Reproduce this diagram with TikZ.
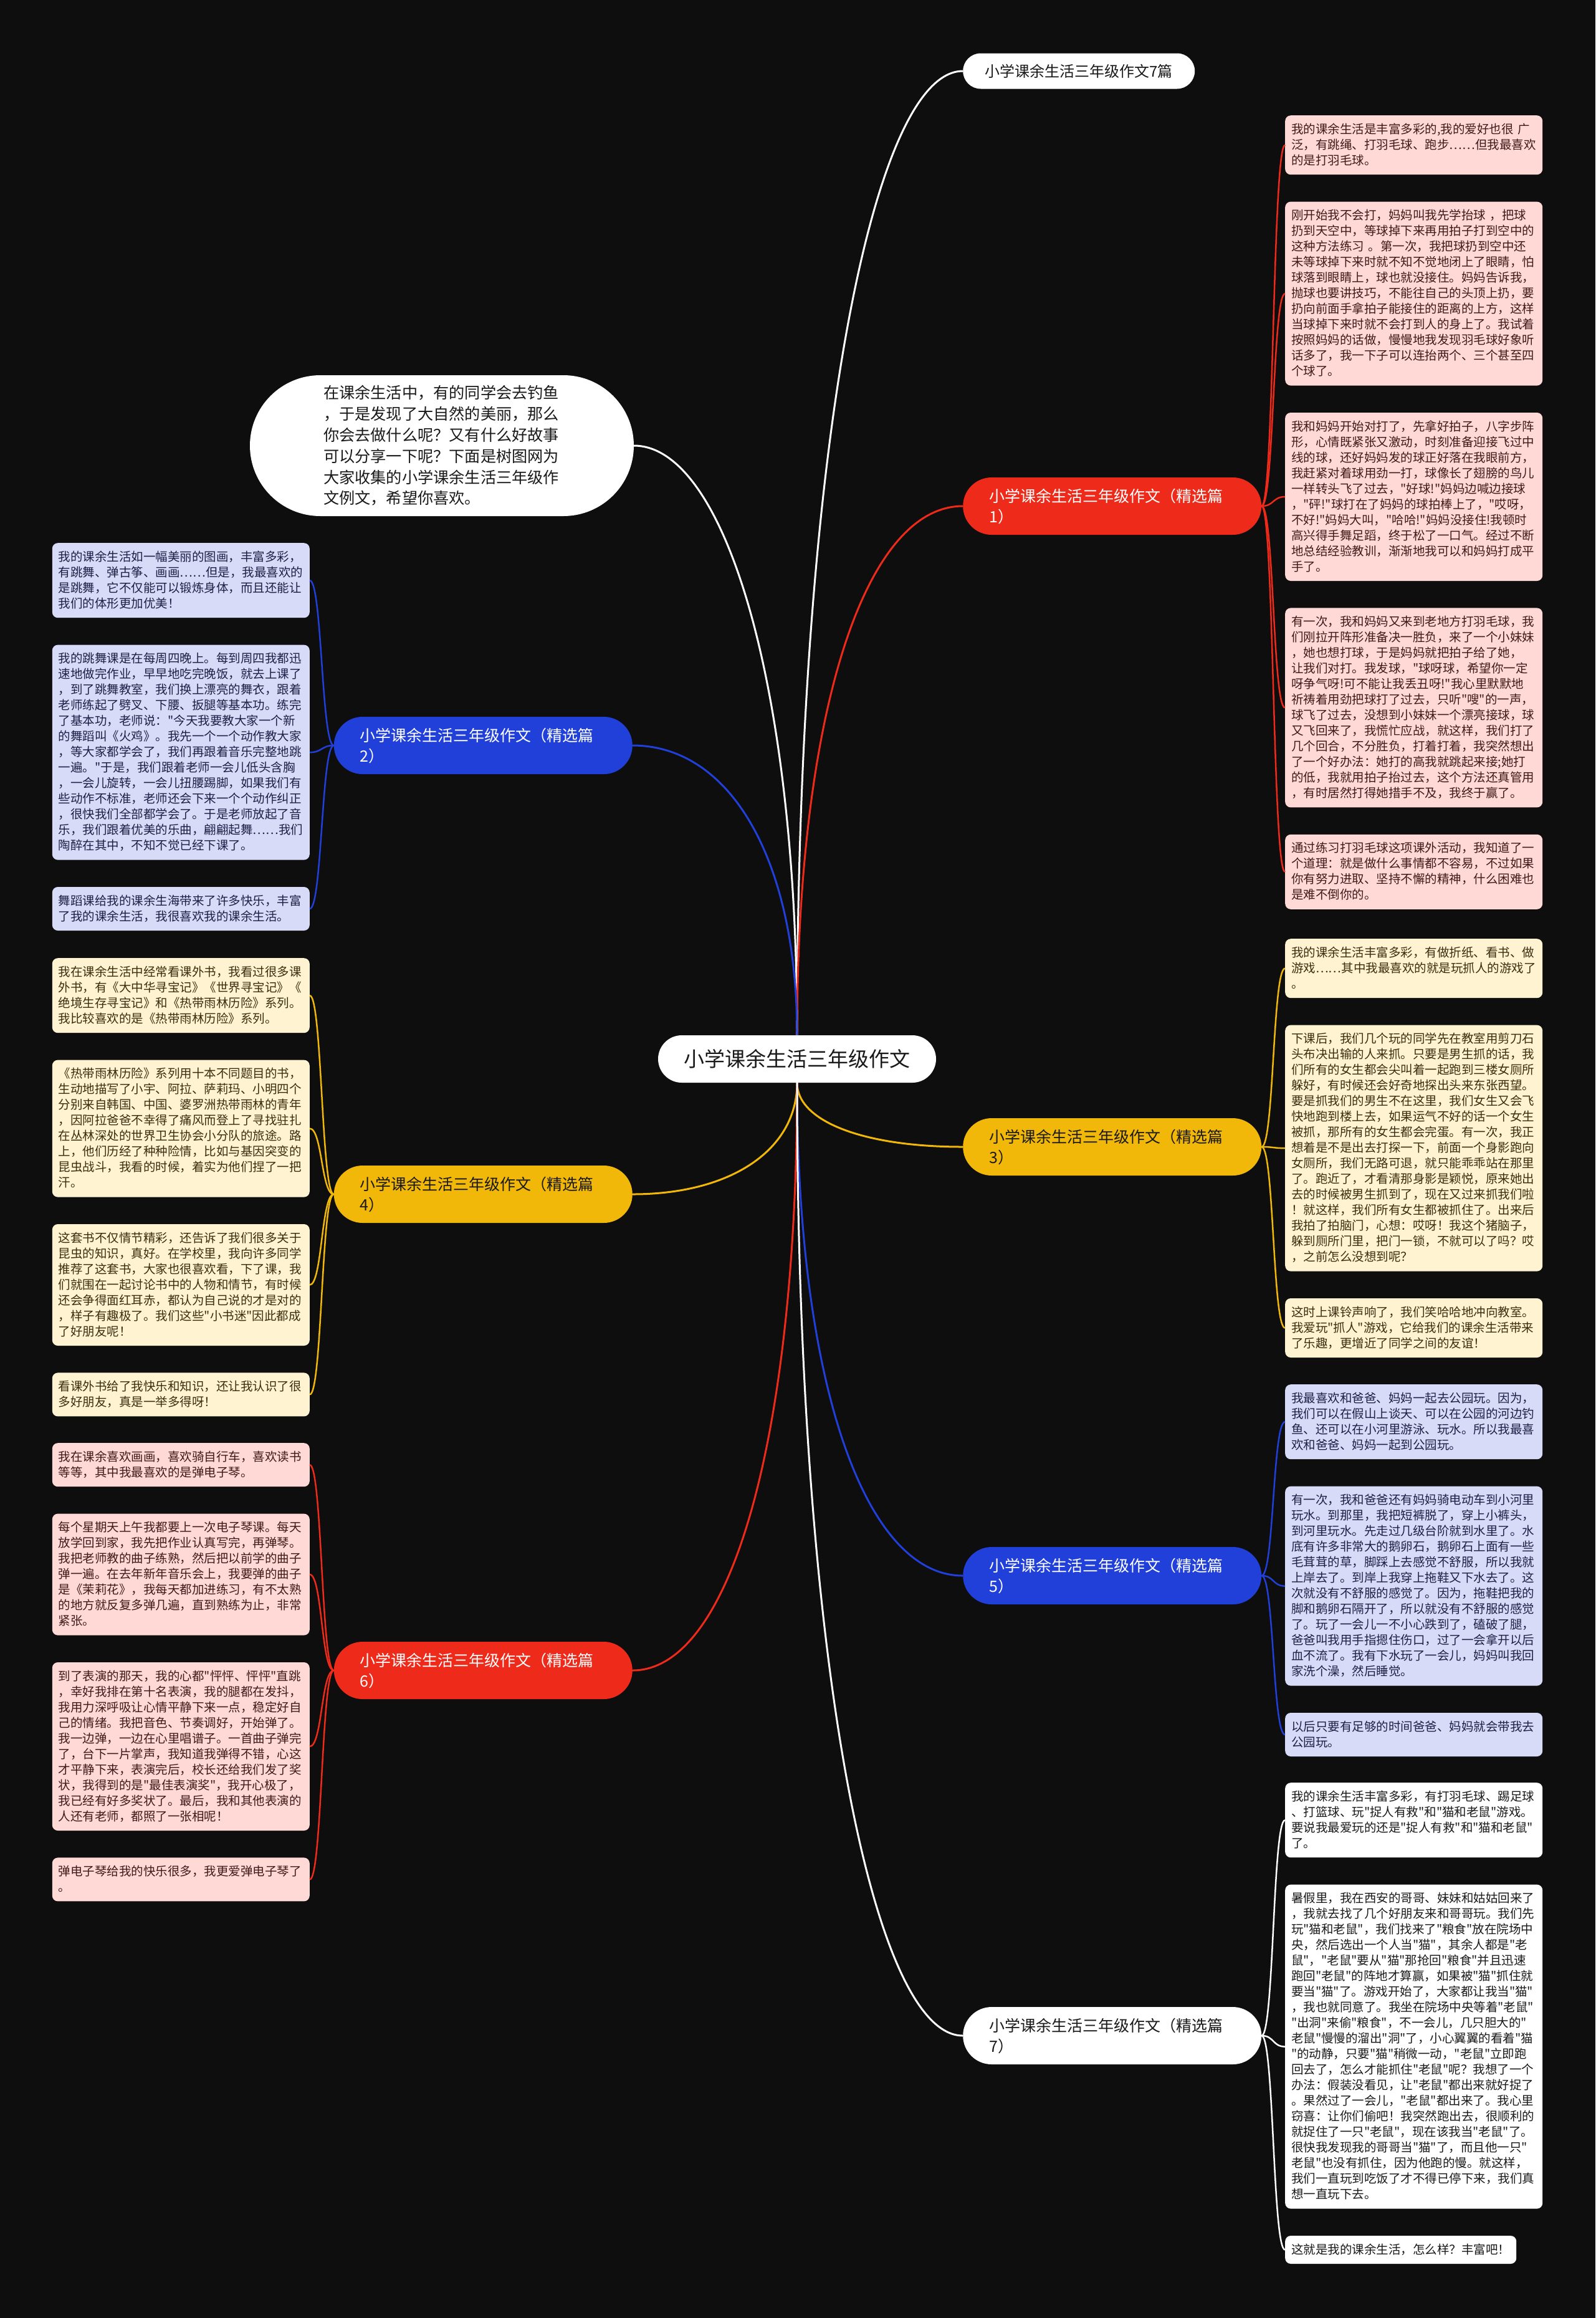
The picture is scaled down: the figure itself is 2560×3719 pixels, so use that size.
\documentclass[tikz,border=0pt]{standalone}
\usepackage{fontspec}
\setmainfont{Noto Sans CJK SC}[Ligatures=TeXOff]
\usetikzlibrary{positioning,calc}
\definecolor{bgdark}{HTML}{0E0E0E}
\definecolor{essred}{HTML}{EE2A1A}
\definecolor{essblue}{HTML}{2140D9}
\definecolor{essyellow}{HTML}{F1B709}
\definecolor{leafred}{HTML}{FFD9D5}
\definecolor{leafyellow}{HTML}{FFF3D2}
\definecolor{leafblue}{HTML}{D8DBF8}
\definecolor{inkred}{HTML}{3E1B18}
\definecolor{inkyellow}{HTML}{3A2E10}
\definecolor{inkblue}{HTML}{1D2046}
\definecolor{inkdark}{HTML}{1A1A1A}
\tikzstyle{topic} = [fill=white, text=inkdark, rounded corners=38pt, minimum width=446pt, minimum height=76pt, font=\fontsize{33pt}{40pt}\selectfont]
\tikzstyle{introbubble} = [fill=white, text=inkdark, rounded corners=113pt, minimum height=226pt, text width=380pt, inner xsep=118pt, align=left, font=\fontsize{25.2pt}{33.8pt}\selectfont]
\tikzstyle{mainbranch} = [rounded corners=46pt, minimum height=92pt, text width=395pt, inner xsep=42pt, align=left, font=\fontsize{25pt}{33pt}\selectfont]
\tikzstyle{leafbase} = [rounded corners=9pt, inner xsep=10pt, inner ysep=10pt, font=\fontsize{19.5pt}{25pt}\selectfont]
\tikzstyle{leaf} = [leafbase, text width=393pt, align=left, execute at begin node={\parindent0pt\rule{0pt}{19pt}}, execute at end node={\rule[-6pt]{0pt}{6pt}}]
\tikzstyle{redleaf} = [leaf, fill=leafred, text=inkred]
\tikzstyle{yellowleaf} = [leaf, fill=leafyellow, text=inkyellow]
\tikzstyle{blueleaf} = [leaf, fill=leafblue, text=inkblue]
\tikzstyle{whiteleaf} = [leaf, fill=white, text=inkdark]
\tikzstyle{redlink} = [draw=essred, line width=3pt]
\tikzstyle{bluelink} = [draw=essblue, line width=3pt]
\tikzstyle{yellowlink} = [draw=essyellow, line width=3pt]
\tikzstyle{whitelink} = [draw=white, line width=3pt]
\tikzstyle{twig} = [line width=2.5pt]

\begin{document}
\begin{tikzpicture}[x=1pt, y=-1pt]
    \fill[bgdark] (0,0) rectangle (2560,3719);
    \useasboundingbox (0,0) rectangle (2560,3719);

    % Central topic and intro
    \node [topic] (root) at (1279,1699) {小学课余生活三年级作文};
    \node [introbubble] (intro) at (709,715) {在课余生活中，有的同学会去钓鱼\\
，于是发现了大自然的美丽，那么\\
你会去做什么呢？又有什么好故事\\
可以分享一下呢？下面是树图网为\\
大家收集的小学课余生活三年级作\\
文例文，希望你喜欢。};

    % Main branches
    \node [topic, anchor=west, minimum width=372pt, minimum height=57pt, rounded corners=28.5pt, font=\fontsize{24pt}{30pt}\selectfont] (b0) at (1545,114) {小学课余生活三年级作文7篇};
    \node [mainbranch, fill=essred, text=white, anchor=west] (b1) at (1545,812) {小学课余生活三年级作文（精选篇\\1）};
    \node [mainbranch, fill=essblue, text=white, anchor=east] (b2) at (1015,1196) {小学课余生活三年级作文（精选篇\\2）};
    \node [mainbranch, fill=essyellow, text=inkdark, anchor=west] (b3) at (1545,1840) {小学课余生活三年级作文（精选篇\\3）};
    \node [mainbranch, fill=essyellow, text=inkdark, anchor=east] (b4) at (1015,1916) {小学课余生活三年级作文（精选篇\\4）};
    \node [mainbranch, fill=essblue, text=white, anchor=west] (b5) at (1545,2528) {小学课余生活三年级作文（精选篇\\5）};
    \node [mainbranch, fill=essred, text=white, anchor=east] (b6) at (1015,2680) {小学课余生活三年级作文（精选篇\\6）};
    \node [mainbranch, fill=white, text=inkdark, anchor=west] (b7) at (1545,3266) {小学课余生活三年级作文（精选篇\\7）};

    % Leaves of branch 1
    \node [redleaf, anchor=north west] (r1) at (2062,185) {我的课余生活是丰富多彩的,我的爱好也很 广\\
泛，有跳绳、打羽毛球、跑步……但我最喜欢\\
的是打羽毛球。};
    \node [redleaf, below=43pt of r1.south west, anchor=north west] (r2) {刚开始我不会打，妈妈叫我先学抬球 ，把球\\
扔到天空中，等球掉下来再用拍子打到空中的\\
这种方法练习 。第一次，我把球扔到空中还\\
未等球掉下来时就不知不觉地闭上了眼睛，怕\\
球落到眼睛上，球也就没接住。妈妈告诉我，\\
抛球也要讲技巧，不能往自己的头顶上扔，要\\
扔向前面手拿拍子能接住的距离的上方，这样\\
当球掉下来时就不会打到人的身上了。我试着\\
按照妈妈的话做，慢慢地我发现羽毛球好象听\\
话多了，我一下子可以连抬两个、三个甚至四\\
个球了。};
    \node [redleaf, below=43pt of r2.south west, anchor=north west] (r3) {我和妈妈开始对打了，先拿好拍子，八字步阵\\
形，心情既紧张又激动，时刻准备迎接飞过中\\
线的球，还好妈妈发的球正好落在我眼前方，\\
我赶紧对着球用劲一打，球像长了翅膀的鸟儿\\
一样转头飞了过去，"好球!"妈妈边喊边接球\\
，"砰!"球打在了妈妈的球拍棒上了，"哎呀，\\
不好!"妈妈大叫，"哈哈!"妈妈没接住!我顿时\\
高兴得手舞足蹈，终于松了一口气。经过不断\\
地总结经验教训，渐渐地我可以和妈妈打成平\\
手了。};
    \node [redleaf, below=43pt of r3.south west, anchor=north west] (r4) {有一次，我和妈妈又来到老地方打羽毛球，我\\
们刚拉开阵形准备决一胜负，来了一个小妹妹\\
，她也想打球，于是妈妈就把拍子给了她，\\
让我们对打。我发球，"球呀球，希望你一定\\
呀争气呀!可不能让我丢丑呀!"我心里默默地\\
祈祷着用劲把球打了过去，只听"嗖"的一声，\\
球飞了过去，没想到小妹妹一个漂亮接球，球\\
又飞回来了，我慌忙应战，就这样，我们打了\\
几个回合，不分胜负，打着打着，我突然想出\\
了一个好办法：她打的高我就跳起来接;她打\\
的低，我就用拍子抬过去，这个方法还真管用\\
，有时居然打得她措手不及，我终于赢了。};
    \node [redleaf, below=43pt of r4.south west, anchor=north west] (r5) {通过练习打羽毛球这项课外活动，我知道了一\\
个道理：就是做什么事情都不容易，不过如果\\
你有努力进取、坚持不懈的精神，什么困难也\\
是难不倒你的。};

    % Leaves of branch 3
    \node [yellowleaf, anchor=north west] (y1) at (2062,1506) {我的课余生活丰富多彩，有做折纸、看书、做\\
游戏……其中我最喜欢的就是玩抓人的游戏了\\
。};
    \node [yellowleaf, below=43pt of y1.south west, anchor=north west] (y2) {下课后，我们几个玩的同学先在教室用剪刀石\\
头布决出输的人来抓。只要是男生抓的话，我\\
们所有的女生都会尖叫着一起跑到三楼女厕所\\
躲好，有时候还会好奇地探出头来东张西望。\\
要是抓我们的男生不在这里，我们女生又会飞\\
快地跑到楼上去，如果运气不好的话一个女生\\
被抓，那所有的女生都会完蛋。有一次，我正\\
想着是不是出去打探一下，前面一个身影跑向\\
女厕所，我们无路可退，就只能乖乖站在那里\\
了。跑近了，才看清那身影是颖悦，原来她出\\
去的时候被男生抓到了，现在又过来抓我们啦\\
！就这样，我们所有女生都被抓住了。出来后\\
我拍了拍脑门，心想：哎呀！我这个猪脑子，\\
躲到厕所门里，把门一锁，不就可以了吗？哎\\
，之前怎么没想到呢？};
    \node [yellowleaf, below=43pt of y2.south west, anchor=north west] (y3) {这时上课铃声响了，我们笑哈哈地冲向教室。\\
我爱玩"抓人"游戏，它给我们的课余生活带来\\
了乐趣，更增近了同学之间的友谊！};

    % Leaves of branch 5
    \node [blueleaf, anchor=north west] (u1) at (2062,2221) {我最喜欢和爸爸、妈妈一起去公园玩。因为，\\
我们可以在假山上谈天、可以在公园的河边钓\\
鱼、还可以在小河里游泳、玩水。所以我最喜\\
欢和爸爸、妈妈一起到公园玩。};
    \node [blueleaf, below=43pt of u1.south west, anchor=north west] (u2) {有一次，我和爸爸还有妈妈骑电动车到小河里\\
玩水。到那里，我把短裤脱了，穿上小裤头，\\
到河里玩水。先走过几级台阶就到水里了。水\\
底有许多非常大的鹅卵石，鹅卵石上面有一些\\
毛茸茸的草，脚踩上去感觉不舒服，所以我就\\
上岸去了。到岸上我穿上拖鞋又下水去了。这\\
次就没有不舒服的感觉了。因为，拖鞋把我的\\
脚和鹅卵石隔开了，所以就没有不舒服的感觉\\
了。玩了一会儿一不小心跌到了，磕破了腿，\\
爸爸叫我用手指摁住伤口，过了一会拿开以后\\
血不流了。我有下水玩了一会儿，妈妈叫我回\\
家洗个澡，然后睡觉。};
    \node [blueleaf, below=43pt of u2.south west, anchor=north west] (u3) {以后只要有足够的时间爸爸、妈妈就会带我去\\
公园玩。};

    % Leaves of branch 7
    \node [whiteleaf, anchor=north west] (w1) at (2062,2860) {我的课余生活丰富多彩，有打羽毛球、踢足球\\
、打篮球、玩"捉人有救"和"猫和老鼠"游戏。\\
要说我最爱玩的还是"捉人有救"和"猫和老鼠"\\
了。};
    \node [whiteleaf, below=43pt of w1.south west, anchor=north west] (w2) {暑假里，我在西安的哥哥、妹妹和姑姑回来了\\
，我就去找了几个好朋友来和哥哥玩。我们先\\
玩"猫和老鼠"，我们找来了"粮食"放在院场中\\
央，然后选出一个人当"猫"，其余人都是"老\\
鼠"，"老鼠"要从"猫"那抢回"粮食"并且迅速\\
跑回"老鼠"的阵地才算赢，如果被"猫"抓住就\\
要当"猫"了。游戏开始了，大家都让我当"猫"\\
，我也就同意了。我坐在院场中央等着"老鼠"\\
"出洞"来偷"粮食"，不一会儿，几只胆大的"\\
老鼠"慢慢的溜出"洞"了，小心翼翼的看着"猫\\
"的动静，只要"猫"稍微一动，"老鼠"立即跑\\
回去了，怎么才能抓住"老鼠"呢？我想了一个\\
办法：假装没看见，让"老鼠"都出来就好捉了\\
。果然过了一会儿，"老鼠"都出来了。我心里\\
窃喜：让你们偷吧！我突然跑出去，很顺利的\\
就捉住了一只"老鼠"，现在该我当"老鼠"了。\\
很快我发现我的哥哥当"猫"了，而且他一只"\\
老鼠"也没有抓住，因为他跑的慢。就这样，\\
我们一直玩到吃饭了才不得已停下来，我们真\\
想一直玩下去。};
    \node [leafbase, fill=white, text=inkdark, text height=19pt, text depth=6pt, below=43pt of w2.south west, anchor=north west] (w3) {这就是我的课余生活，怎么样？丰富吧！};

    % Leaves of branch 2
    \node [blueleaf, anchor=north east] (lb1) at (497,871) {我的课余生活如一幅美丽的图画，丰富多彩，\\
有跳舞、弹古筝、画画……但是，我最喜欢的\\
是跳舞，它不仅能可以锻炼身体，而且还能让\\
我们的体形更加优美！};
    \node [blueleaf, below=43pt of lb1.south east, anchor=north east] (lb2) {我的跳舞课是在每周四晚上。每到周四我都迅\\
速地做完作业，早早地吃完晚饭，就去上课了\\
，到了跳舞教室，我们换上漂亮的舞衣，跟着\\
老师练起了劈叉、下腰、扳腿等基本功。练完\\
了基本功，老师说："今天我要教大家一个新\\
的舞蹈叫《火鸡》。我先一个一个动作教大家\\
，等大家都学会了，我们再跟着音乐完整地跳\\
一遍。"于是，我们跟着老师一会儿低头含胸\\
，一会儿旋转，一会儿扭腰踢脚，如果我们有\\
些动作不标准，老师还会下来一个个动作纠正\\
，很快我们全部都学会了。于是老师放起了音\\
乐，我们跟着优美的乐曲，翩翩起舞……我们\\
陶醉在其中，不知不觉已经下课了。};
    \node [blueleaf, below=43pt of lb2.south east, anchor=north east] (lb3) {舞蹈课给我的课余生海带来了许多快乐，丰富\\
了我的课余生活，我很喜欢我的课余生活。};

    % Leaves of branch 4
    \node [yellowleaf, anchor=north east] (ly1) at (497,1537) {我在课余生活中经常看课外书，我看过很多课\\
外书，有《大中华寻宝记》《世界寻宝记》《\\
绝境生存寻宝记》和《热带雨林历险》系列。\\
我比较喜欢的是《热带雨林历险》系列。};
    \node [yellowleaf, below=43pt of ly1.south east, anchor=north east] (ly2) {《热带雨林历险》系列用十本不同题目的书，\\
生动地描写了小宇、阿拉、萨莉玛、小明四个\\
分别来自韩国、中国、婆罗洲热带雨林的青年\\
，因阿拉爸爸不幸得了痛风而登上了寻找驻扎\\
在丛林深处的世界卫生协会小分队的旅途。路\\
上，他们历经了种种险情，比如与基因突变的\\
昆虫战斗，我看的时候，着实为他们捏了一把\\
汗。};
    \node [yellowleaf, below=43pt of ly2.south east, anchor=north east] (ly3) {这套书不仅情节精彩，还告诉了我们很多关于\\
昆虫的知识，真好。在学校里，我向许多同学\\
推荐了这套书，大家也很喜欢看，下了课，我\\
们就围在一起讨论书中的人物和情节，有时候\\
还会争得面红耳赤，都认为自己说的才是对的\\
，样子有趣极了。我们这些"小书迷"因此都成\\
了好朋友呢！};
    \node [yellowleaf, below=43pt of ly3.south east, anchor=north east] (ly4) {看课外书给了我快乐和知识，还让我认识了很\\
多好朋友，真是一举多得呀！};

    % Leaves of branch 6
    \node [redleaf, anchor=north east] (lr1) at (497,2315) {我在课余喜欢画画，喜欢骑自行车，喜欢读书\\
等等，其中我最喜欢的是弹电子琴。};
    \node [redleaf, below=43pt of lr1.south east, anchor=north east] (lr2) {每个星期天上午我都要上一次电子琴课。每天\\
放学回到家，我先把作业认真写完，再弹琴。\\
我把老师教的曲子练熟，然后把以前学的曲子\\
弹一遍。在去年新年音乐会上，我要弹的曲子\\
是《茉莉花》，我每天都加进练习，有不太熟\\
的地方就反复多弹几遍，直到熟练为止，非常\\
紧张。};
    \node [redleaf, below=43pt of lr2.south east, anchor=north east] (lr3) {到了表演的那天，我的心都"怦怦、怦怦"直跳\\
，幸好我排在第十名表演，我的腿都在发抖，\\
我用力深呼吸让心情平静下来一点，稳定好自\\
己的情绪。我把音色、节奏调好，开始弹了。\\
我一边弹，一边在心里唱谱子。一首曲子弹完\\
了，台下一片掌声，我知道我弹得不错，心这\\
才平静下来，表演完后，校长还给我们发了奖\\
状，我得到的是"最佳表演奖"，我开心极了，\\
我已经有好多奖状了。最后，我和其他表演的\\
人还有老师，都照了一张相呢！};
    \node [redleaf, below=43pt of lr3.south east, anchor=north east] (lr4) {弹电子琴给我的快乐很多，我更爱弹电子琴了\\
。};

    % Connections from the central topic
    \draw [whitelink] (root.north) .. controls ($(root.north)!.6!(root.north |- intro.east)$) and ($(root.north |- intro.east)!.45!(intro.east)$) .. (intro.east);
    \draw [whitelink] (root.north) .. controls ($(root.north)!.6!(root.north |- b0.west)$) and ($(root.north |- b0.west)!.45!(b0.west)$) .. (b0.west);
    \draw [redlink] (root.north) .. controls ($(root.north)!.6!(root.north |- b1.west)$) and ($(root.north |- b1.west)!.4!(b1.west)$) .. (b1.west);
    \draw [bluelink] (root.north) .. controls ($(root.north)!.6!(root.north |- b2.east)$) and ($(root.north |- b2.east)!.4!(b2.east)$) .. (b2.east);
    \draw [yellowlink] (root.south) .. controls ($(root.south)!.6!(root.south |- b3.west)$) and ($(root.south |- b3.west)!.4!(b3.west)$) .. (b3.west);
    \draw [yellowlink] (root.south) .. controls ($(root.south)!.6!(root.south |- b4.east)$) and ($(root.south |- b4.east)!.4!(b4.east)$) .. (b4.east);
    \draw [bluelink] (root.south) .. controls ($(root.south)!.6!(root.south |- b5.west)$) and ($(root.south |- b5.west)!.4!(b5.west)$) .. (b5.west);
    \draw [redlink] (root.south) .. controls ($(root.south)!.6!(root.south |- b6.east)$) and ($(root.south |- b6.east)!.4!(b6.east)$) .. (b6.east);
    \draw [whitelink] (root.south) .. controls ($(root.south)!.6!(root.south |- b7.west)$) and ($(root.south |- b7.west)!.45!(b7.west)$) .. (b7.west);

    % Connections to the leaves
    \draw [redlink, twig] (b1.east) .. controls +(20,0) and +(-20,0) .. (r1.west);
    \draw [redlink, twig] (b1.east) .. controls +(20,0) and +(-20,0) .. (r2.west);
    \draw [redlink, twig] (b1.east) .. controls +(20,0) and +(-20,0) .. (r3.west);
    \draw [redlink, twig] (b1.east) .. controls +(20,0) and +(-20,0) .. (r4.west);
    \draw [redlink, twig] (b1.east) .. controls +(20,0) and +(-20,0) .. (r5.west);
    \draw [yellowlink, twig] (b3.east) .. controls +(20,0) and +(-20,0) .. (y1.west);
    \draw [yellowlink, twig] (b3.east) .. controls +(20,0) and +(-20,0) .. (y2.west);
    \draw [yellowlink, twig] (b3.east) .. controls +(20,0) and +(-20,0) .. (y3.west);
    \draw [bluelink, twig] (b5.east) .. controls +(20,0) and +(-20,0) .. (u1.west);
    \draw [bluelink, twig] (b5.east) .. controls +(20,0) and +(-20,0) .. (u2.west);
    \draw [bluelink, twig] (b5.east) .. controls +(20,0) and +(-20,0) .. (u3.west);
    \draw [whitelink, twig] (b7.east) .. controls +(20,0) and +(-20,0) .. (w1.west);
    \draw [whitelink, twig] (b7.east) .. controls +(20,0) and +(-20,0) .. (w2.west);
    \draw [whitelink, twig] (b7.east) .. controls +(20,0) and +(-20,0) .. (w3.west);
    \draw [bluelink, twig] (b2.west) .. controls +(-20,0) and +(20,0) .. (lb1.east);
    \draw [bluelink, twig] (b2.west) .. controls +(-20,0) and +(20,0) .. (lb2.east);
    \draw [bluelink, twig] (b2.west) .. controls +(-20,0) and +(20,0) .. (lb3.east);
    \draw [yellowlink, twig] (b4.west) .. controls +(-20,0) and +(20,0) .. (ly1.east);
    \draw [yellowlink, twig] (b4.west) .. controls +(-20,0) and +(20,0) .. (ly2.east);
    \draw [yellowlink, twig] (b4.west) .. controls +(-20,0) and +(20,0) .. (ly3.east);
    \draw [yellowlink, twig] (b4.west) .. controls +(-20,0) and +(20,0) .. (ly4.east);
    \draw [redlink, twig] (b6.west) .. controls +(-20,0) and +(20,0) .. (lr1.east);
    \draw [redlink, twig] (b6.west) .. controls +(-20,0) and +(20,0) .. (lr2.east);
    \draw [redlink, twig] (b6.west) .. controls +(-20,0) and +(20,0) .. (lr3.east);
    \draw [redlink, twig] (b6.west) .. controls +(-20,0) and +(20,0) .. (lr4.east);
\end{tikzpicture}
\end{document}
